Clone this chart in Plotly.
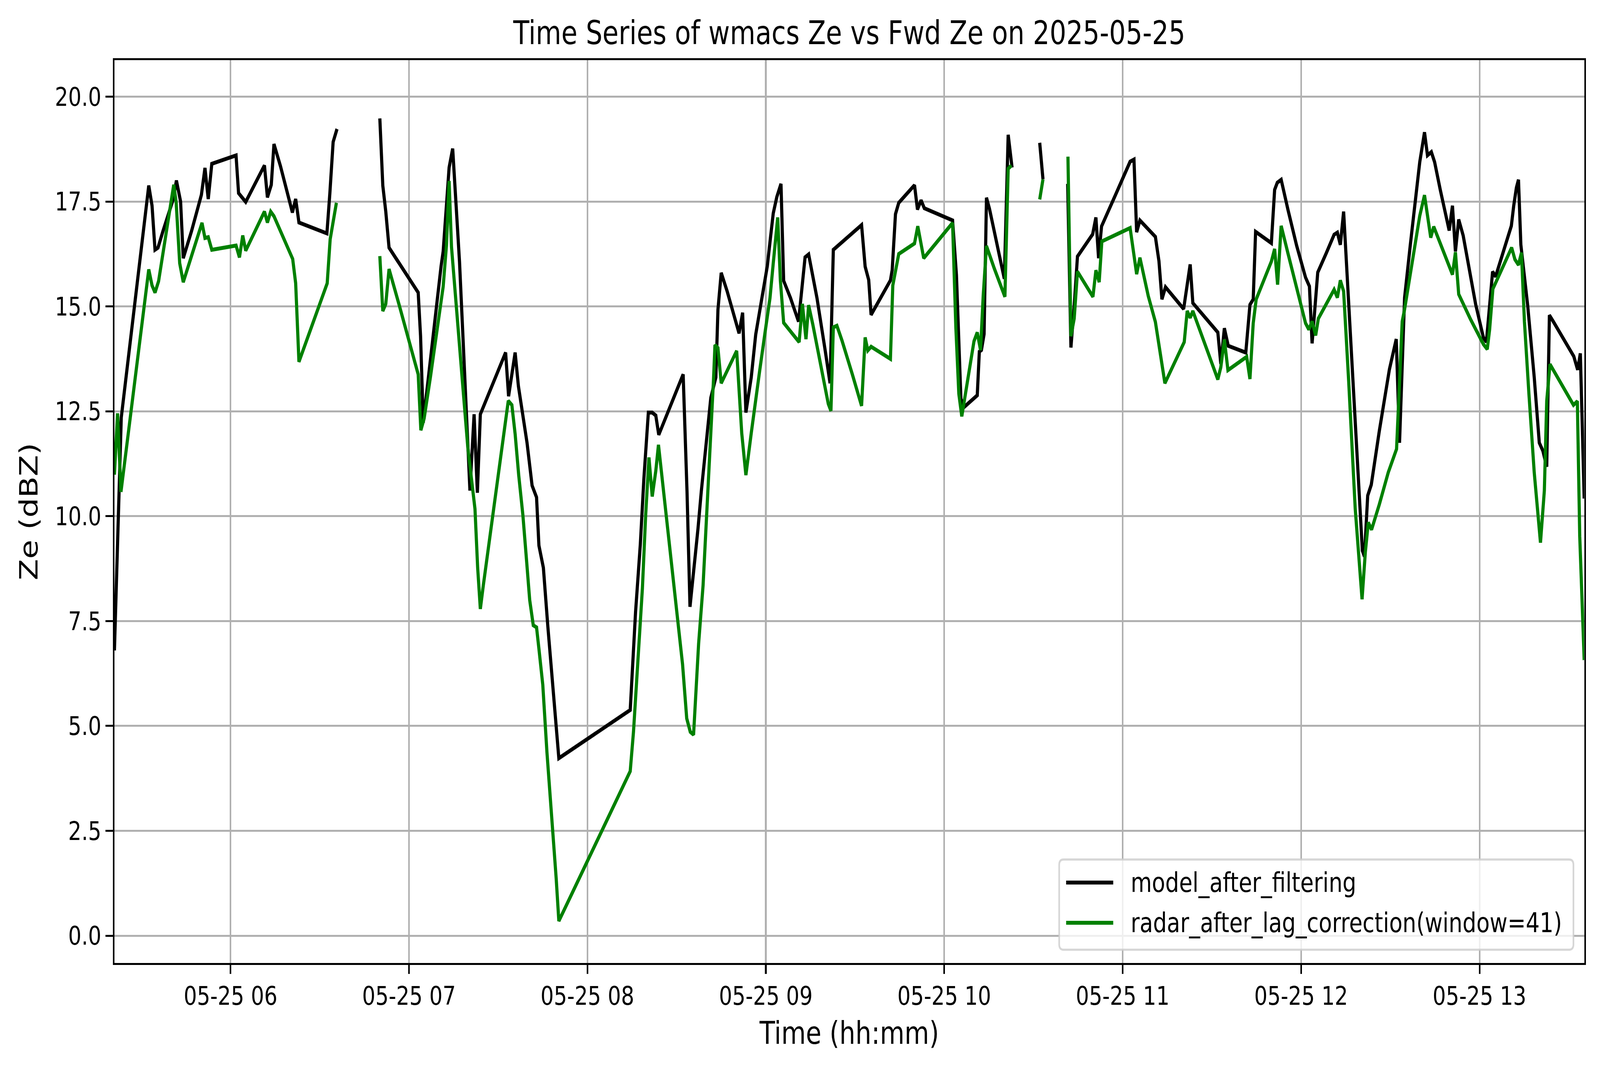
import plotly.graph_objects as go

DAY = "2025-05-25"

# model_after_filtering (None = gap in the record)
model_time = [
    "05:20:57", "05:23:15", "05:32:30", "05:33:36", "05:34:36", "05:35:36", "05:37:18",
    "05:40:42", "05:41:48", "05:43:12", "05:44:06", "05:46:54", "05:50:12", "05:51:24",
    "05:52:30", "05:53:42", "06:01:51", "06:02:42", "06:05:06", "06:11:24", "06:12:24",
    "06:13:42", "06:14:36", "06:16:48", "06:20:48", "06:21:54", "06:23:00", "06:32:24",
    "06:33:24", "06:34:30", "06:35:48", "06:43:00",
    "06:50:12", "06:51:12", "06:52:12", "06:53:18", "07:03:06", "07:03:54", "07:04:48",
    "07:06:36", "07:08:06", "07:10:48", "07:11:30", "07:13:30", "07:14:42", "07:15:30",
    "07:17:00", "07:18:06", "07:20:30", "07:21:54", "07:23:00", "07:24:00", "07:32:30",
    "07:33:30", "07:35:42", "07:36:48", "07:39:42", "07:41:24", "07:42:54", "07:43:42",
    "07:45:12", "07:46:42", "07:49:36", "07:50:24", "08:14:24", "08:16:12", "08:17:48",
    "08:19:00", "08:20:30", "08:21:48", "08:23:00", "08:24:00", "08:32:12", "08:33:30",
    "08:34:30", "08:36:00", "08:37:12", "08:38:18", "08:40:00", "08:41:30", "08:43:12",
    "08:43:54", "08:45:00", "08:47:00", "08:51:00", "08:52:12", "08:53:18", "08:54:06",
    "08:55:06", "08:56:36", "08:59:06", "09:00:30", "09:01:36", "09:02:30", "09:03:42",
    "09:05:06", "09:06:00", "09:08:18", "09:11:00", "09:12:06", "09:13:12", "09:14:24",
    "09:15:48", "09:17:12", "09:19:54", "09:21:36", "09:22:42", "09:32:12", "09:33:24",
    "09:34:36", "09:35:24", "09:41:54", "09:42:30", "09:43:36", "09:44:42", "09:50:00",
    "09:51:00", "09:52:12", "09:53:18", "10:02:48", "10:04:06", "10:04:54", "10:05:36",
    "10:06:30", "10:11:06", "10:11:48", "10:12:30", "10:13:24", "10:14:12", "10:15:12",
    "10:16:48", "10:18:06", "10:20:12", "10:21:30", "10:22:48", "10:27:00",
    "10:32:06", "10:33:12", "10:37:00",
    "10:41:30", "10:42:36", "10:43:48", "10:44:48", "10:49:54", "10:51:00", "10:51:54",
    "10:52:54", "10:57:36", "11:02:30", "11:03:48", "11:04:42", "11:05:48", "11:11:00",
    "11:12:12", "11:13:12", "11:14:24", "11:20:30", "11:22:42", "11:23:36", "11:32:00",
    "11:33:00", "11:34:12", "11:35:30", "11:41:24", "11:42:48", "11:43:54", "11:44:42",
    "11:50:00", "11:51:06", "11:52:00", "11:53:18", "11:55:36", "11:58:30", "12:01:30",
    "12:02:48", "12:03:42", "12:04:42", "12:05:36", "12:08:24", "12:11:06", "12:12:12",
    "12:13:12", "12:14:18", "12:20:36", "12:21:18", "12:22:24", "12:23:36", "12:26:18",
    "12:29:42", "12:32:00", "12:33:06", "12:34:12", "12:34:48", "12:36:42", "12:38:12",
    "12:39:54", "12:41:30", "12:42:30", "12:43:48", "12:44:54", "12:46:48", "12:49:48",
    "12:50:54", "12:51:54", "12:53:00", "12:54:30", "12:58:42", "13:01:18", "13:02:18",
    "13:04:24", "13:05:24", "13:07:42", "13:10:42", "13:11:30", "13:12:24", "13:13:06",
    "13:13:54", "13:16:12", "13:18:24", "13:20:06", "13:21:18", "13:22:36", "13:23:30",
    "13:24:48", "13:31:42", "13:33:00", "13:33:54", "13:35:12",
]
model_ze = [
    6.8, 12.35, 17.88, 17.4, 16.35, 16.4, 16.8,
    17.55, 18.0, 17.5, 16.15, 16.8, 17.66, 18.3,
    17.56, 18.4, 18.6, 17.7, 17.49, 18.36, 17.6,
    17.9, 18.87, 18.34, 17.24, 17.56, 17.0, 16.74,
    17.7, 18.92, 19.23, None,
    19.48, 17.88, 17.26, 16.4, 15.33, 14.29, 12.23,
    13.38, 14.25, 15.96, 16.31, 18.31, 18.76, 17.82,
    16.06, 14.36, 10.61, 12.43, 10.56, 12.43, 13.9,
    12.86, 13.9, 13.1, 11.75, 10.73, 10.45, 9.3,
    8.77, 7.37, 5.0, 4.23, 5.38, 7.72, 9.33,
    10.9, 12.47, 12.47, 12.4, 11.94, 13.38, 10.59,
    7.84, 8.81, 9.71, 10.59, 11.7, 12.82, 13.31,
    14.92, 15.8, 15.36, 14.36, 14.85, 12.47, 12.89,
    13.31, 14.33, 15.33, 15.96, 16.66, 17.22, 17.61,
    17.92, 15.61, 15.2, 14.64, 15.4, 16.17, 16.24,
    15.75, 15.2, 13.98, 13.17, 16.35, 16.94, 15.95,
    15.63, 14.8, 15.62, 15.87, 17.2, 17.47, 17.89,
    17.31, 17.53, 17.34, 17.05, 15.75, 14.09, 12.8,
    12.59, 12.88, 13.92, 13.96, 14.34, 17.59, 17.33,
    16.79, 16.37, 15.66, 19.09, 18.31, None,
    18.9, 18.03, None,
    17.92, 14.02, 15.12, 16.19, 16.72, 17.12, 16.15,
    16.91, 17.66, 18.45, 18.5, 16.77, 17.05, 16.66,
    16.08, 15.17, 15.46, 14.94, 16.0, 15.08, 14.38,
    13.63, 14.48, 14.06, 13.9, 15.04, 15.17, 16.78,
    16.51, 17.78, 17.95, 18.02, 17.3, 16.45, 15.69,
    15.48, 14.12, 15.02, 15.81, 16.26, 16.71, 16.76,
    16.47, 17.26, 9.18, 9.04, 10.49, 10.75, 12.03,
    13.5, 14.22, 11.75, 14.07, 15.21, 16.45, 17.35,
    18.44, 19.15, 18.6, 18.68, 18.44, 17.78, 16.81,
    17.4, 16.31, 17.07, 16.69, 15.05, 14.26, 14.15,
    15.83, 15.71, 16.26, 16.92, 17.4, 17.83, 18.02,
    16.47, 15.02, 13.31, 11.75, 11.56, 11.18, 14.79,
    14.64, 13.81, 13.49, 13.88, 10.42,
]

# radar_after_lag_correction(window=41)
radar_time = [
    "05:20:57", "05:22:00", "05:23:09", "05:32:30", "05:33:36", "05:34:36", "05:35:48",
    "05:40:54", "05:41:42", "05:42:54", "05:44:06", "05:50:24", "05:51:24", "05:52:30",
    "05:53:42", "06:01:51", "06:03:00", "06:04:06", "06:05:06", "06:11:24", "06:12:24",
    "06:13:30", "06:14:36", "06:20:54", "06:21:54", "06:23:00", "06:32:30", "06:33:30",
    "06:35:36", "06:43:00",
    "06:50:12", "06:51:12", "06:52:12", "06:53:18", "06:56:48", "07:00:12", "07:03:06",
    "07:04:00", "07:05:06", "07:07:12", "07:10:00", "07:11:30", "07:12:36", "07:13:30",
    "07:14:18", "07:16:12", "07:18:06", "07:19:48", "07:22:12", "07:23:06", "07:24:00",
    "07:25:00", "07:27:54", "07:30:12", "07:32:12", "07:33:24", "07:34:36", "07:35:42",
    "07:36:54", "07:38:18", "07:39:30", "07:40:36", "07:41:48", "07:42:54", "07:43:42",
    "07:45:00", "07:46:24", "07:48:06", "07:49:30", "07:50:24", "08:14:24", "08:15:30",
    "08:17:00", "08:18:30", "08:19:36", "08:20:42", "08:21:48", "08:23:00", "08:23:54",
    "08:25:24", "08:27:24", "08:28:54", "08:30:12", "08:32:00", "08:33:24", "08:34:36",
    "08:35:42", "08:37:24", "08:38:54", "08:40:00", "08:41:30", "08:42:24", "08:42:54",
    "08:43:54", "08:45:00", "08:50:12", "08:51:54", "08:53:18", "08:55:06", "08:56:12",
    "08:57:54", "08:59:42", "09:01:24", "09:02:30", "09:04:00", "09:04:54", "09:06:00",
    "09:11:12", "09:12:18", "09:13:30", "09:14:24", "09:15:48", "09:19:12", "09:21:00",
    "09:21:54", "09:22:42", "09:23:54", "09:25:36", "09:29:06", "09:32:12", "09:33:24",
    "09:34:18", "09:35:24", "09:41:54", "09:42:42", "09:44:42", "09:50:00", "09:51:06",
    "09:53:06", "10:02:48", "10:03:54", "10:04:54", "10:05:54", "10:07:24", "10:10:00",
    "10:11:06", "10:12:12", "10:13:06", "10:14:12", "10:16:48", "10:20:24", "10:21:30",
    "10:22:36", "10:27:00",
    "10:32:06", "10:33:12", "10:37:00",
    "10:41:36", "10:42:36", "10:43:42", "10:44:48", "10:50:00", "10:51:00", "10:52:06",
    "10:53:00", "11:02:30", "11:04:42", "11:05:48", "11:08:36", "11:11:00", "11:14:12",
    "11:20:42", "11:21:42", "11:22:42", "11:23:36", "11:32:00", "11:33:00", "11:34:12",
    "11:35:24", "11:41:42", "11:42:48", "11:43:54", "11:44:54", "11:50:00", "11:51:06",
    "11:52:06", "11:53:18", "11:55:36", "11:58:30", "12:01:30", "12:02:36", "12:03:42",
    "12:04:54", "12:05:48", "12:11:06", "12:12:12", "12:13:12", "12:14:18", "12:16:00",
    "12:18:12", "12:20:30", "12:21:36", "12:22:36", "12:23:42", "12:26:18", "12:29:18",
    "12:32:06", "12:33:06", "12:34:00", "12:34:48", "12:36:06", "12:38:12", "12:39:54",
    "12:41:30", "12:42:30", "12:43:36", "12:44:36", "12:46:48", "12:50:54", "12:51:54",
    "12:53:00", "12:57:00", "13:01:18", "13:02:36", "13:03:24", "13:04:30", "13:06:48",
    "13:10:48", "13:11:54", "13:13:06", "13:14:06", "13:15:06", "13:16:36", "13:18:24",
    "13:20:30", "13:21:48", "13:22:36", "13:23:42", "13:31:36", "13:32:54", "13:33:42",
    "13:35:12",
]
radar_ze = [
    10.99, 12.45, 10.58, 15.88, 15.5, 15.33, 15.6,
    17.9, 17.49, 16.03, 15.58, 16.99, 16.63, 16.65,
    16.35, 16.45, 16.17, 16.69, 16.33, 17.26, 17.0,
    17.26, 17.15, 16.13, 15.55, 13.68, 15.55, 16.6,
    17.47, None,
    16.2, 14.89, 15.06, 15.89, 15.01, 14.15, 13.38,
    12.05, 12.33, 13.31, 14.78, 15.47, 16.45, 17.99,
    16.42, 14.85, 13.1, 11.63, 10.17, 8.77, 7.79,
    8.35, 9.89, 11.08, 12.12, 12.75, 12.65, 11.96,
    10.98, 10.03, 8.98, 8.0, 7.4, 7.35, 6.84,
    5.98, 4.37, 2.77, 1.37, 0.35, 3.92, 4.86,
    6.68, 8.28, 10.03, 11.4, 10.47, 11.08, 11.7,
    10.73, 9.4, 8.56, 7.72, 6.47, 5.18, 4.86,
    4.79, 6.96, 8.35, 9.89, 11.7, 13.24, 14.08,
    14.01, 13.17, 13.94, 11.98, 10.98, 11.98, 12.61,
    13.45, 14.36, 15.2, 16.03, 17.12, 15.61, 14.61,
    14.15, 15.06, 14.22, 15.03, 14.57, 13.31, 12.68,
    12.51, 14.5, 14.54, 14.19, 13.38, 12.63, 14.26,
    13.95, 14.04, 13.75, 15.5, 16.25, 16.5, 16.91,
    16.15, 16.99, 14.5, 12.92, 12.38, 13.0, 14.17,
    14.38, 13.96, 15.25, 16.44, 15.91, 15.23, 18.28,
    18.36, None,
    17.55, 18.03, None,
    18.57, 14.29, 14.71, 15.83, 15.23, 15.86, 15.58,
    16.55, 16.87, 15.77, 16.16, 15.25, 14.63, 13.17,
    14.15, 14.89, 14.73, 14.89, 13.26, 13.55, 14.21,
    13.48, 13.8, 13.27, 14.6, 15.17, 16.07, 16.37,
    15.52, 16.92, 16.26, 15.45, 14.6, 14.45, 14.64,
    14.31, 14.71, 15.4, 15.21, 15.62, 15.36, 13.22,
    10.18, 8.02, 9.14, 9.85, 9.68, 10.28, 11.04,
    11.6, 13.03, 14.64, 14.93, 15.5, 16.45, 17.16,
    17.65, 17.16, 16.64, 16.9, 16.5, 15.76, 16.29,
    15.29, 14.69, 14.1, 13.98, 14.45, 15.42, 15.78,
    16.4, 16.12, 15.99, 16.28, 14.64, 12.93, 11.04,
    9.37, 10.61, 12.75, 13.62, 12.65, 12.74, 9.52,
    6.57,
]

series_names = ["model_after_filtering", "radar_after_lag_correction(window=41)"]
series_colors = ["#000000", "#008000"]

# figure geometry (px), mirrors the matplotlib axes box
W, H = 5062, 2740
L, R, T, B = 362, 5012, 154, 2466
LW = 10
THIN = 5.3
FONT = "DejaVu Sans"


def px(x):
    return (x - L) / (R - L)


def py(y):
    return (B - y) / (B - T)


fig = go.Figure()
for name, color, tt, vv in [
    (series_names[0], series_colors[0], model_time, model_ze),
    (series_names[1], series_colors[1], radar_time, radar_ze),
]:
    fig.add_trace(go.Scatter(
        x=[f"{DAY} {t}" for t in tt], y=vv, mode="lines", name=name,
        line=dict(color=color, width=LW), connectgaps=False, showlegend=False,
    ))

fig.update_layout(
    width=W, height=H,
    margin=dict(l=L, r=W - R, t=T, b=H - B, pad=0),
    paper_bgcolor="white", plot_bgcolor="white",
    font=dict(family=FONT, size=66, color="black"),
    title=dict(text="Time Series of wmacs Ze vs Fwd Ze on 2025-05-25",
               font=dict(size=83), x=px((L + R) / 2), xref="paper",
               y=1 - 84 / H, yanchor="middle", xanchor="center"),
)
fig.update_xaxes(
    type="date", range=[f"{DAY} 05:20:57", f"{DAY} 13:35:12"],
    tickformat="%m-%d %H", dtick=3600000, tick0=f"{DAY} 00:00:00",
    showgrid=True, gridcolor="#b0b0b0", gridwidth=THIN,
    showline=True, linecolor="black", linewidth=THIN, mirror=True,
    ticks="outside", ticklen=23, tickwidth=THIN, tickcolor="black",
    zeroline=False,
    title=dict(text="Time (hh:mm)", font=dict(size=80), standoff=30),
)
fig.update_yaxes(
    range=[-0.65, 20.87], tick0=0, dtick=2.5, tickformat=".1f",
    showgrid=True, gridcolor="#b0b0b0", gridwidth=THIN,
    showline=True, linecolor="black", linewidth=THIN, mirror=True,
    ticks="outside", ticklen=23, tickwidth=THIN, tickcolor="black",
    zeroline=False,
    title=dict(text="Ze (dBZ)", font=dict(size=80), standoff=30),
)

# legend box, drawn like matplotlib's (lower right, rounded, semi-transparent)
x0, x1, y0, y1 = px(3351), px(4978), py(2432), py(2201)
rx, ry = 14 / (R - L), 14 / (B - T)
box = (f"M {x0 + rx},{y0} L {x1 - rx},{y0} Q {x1},{y0} {x1},{y0 + ry} "
       f"L {x1},{y1 - ry} Q {x1},{y1} {x1 - rx},{y1} L {x0 + rx},{y1} "
       f"Q {x0},{y1} {x0},{y1 - ry} L {x0},{y0 + ry} Q {x0},{y0} {x0 + rx},{y0} Z")
fig.add_shape(type="path", path=box, xref="paper", yref="paper", layer="above",
              fillcolor="rgba(255,255,255,0.8)",
              line=dict(color="rgba(204,204,204,0.8)", width=THIN))
for name, color, row_y in zip(series_names, series_colors, [2260, 2363]):
    fig.add_shape(type="line", xref="paper", yref="paper", layer="above",
                  x0=px(3373), x1=px(3522), y0=py(row_y), y1=py(row_y),
                  line=dict(color=color, width=LW))
    fig.add_annotation(text=name, xref="paper", yref="paper", x=px(3575), y=py(row_y),
                       xanchor="left", yanchor="middle", showarrow=False,
                       font=dict(size=69, color="black"))

# the browser viewport may be narrower than the figure: stretch it to fill the window
fit_js = (
    "var gd = document.getElementById('{plot_id}');"
    "document.documentElement.style.overflow = 'hidden';"
    "document.body.style.margin = '0';"
    "document.body.style.overflow = 'hidden';"
    f"var sx = window.innerWidth / {W}, sy = window.innerHeight / {H};"
    "gd.style.transformOrigin = '0 0';"
    "gd.style.transform = 'scale(' + sx + ',' + sy + ')';"
)
fig.write_html("out.html", post_script=fit_js, config={"displayModeBar": False})
